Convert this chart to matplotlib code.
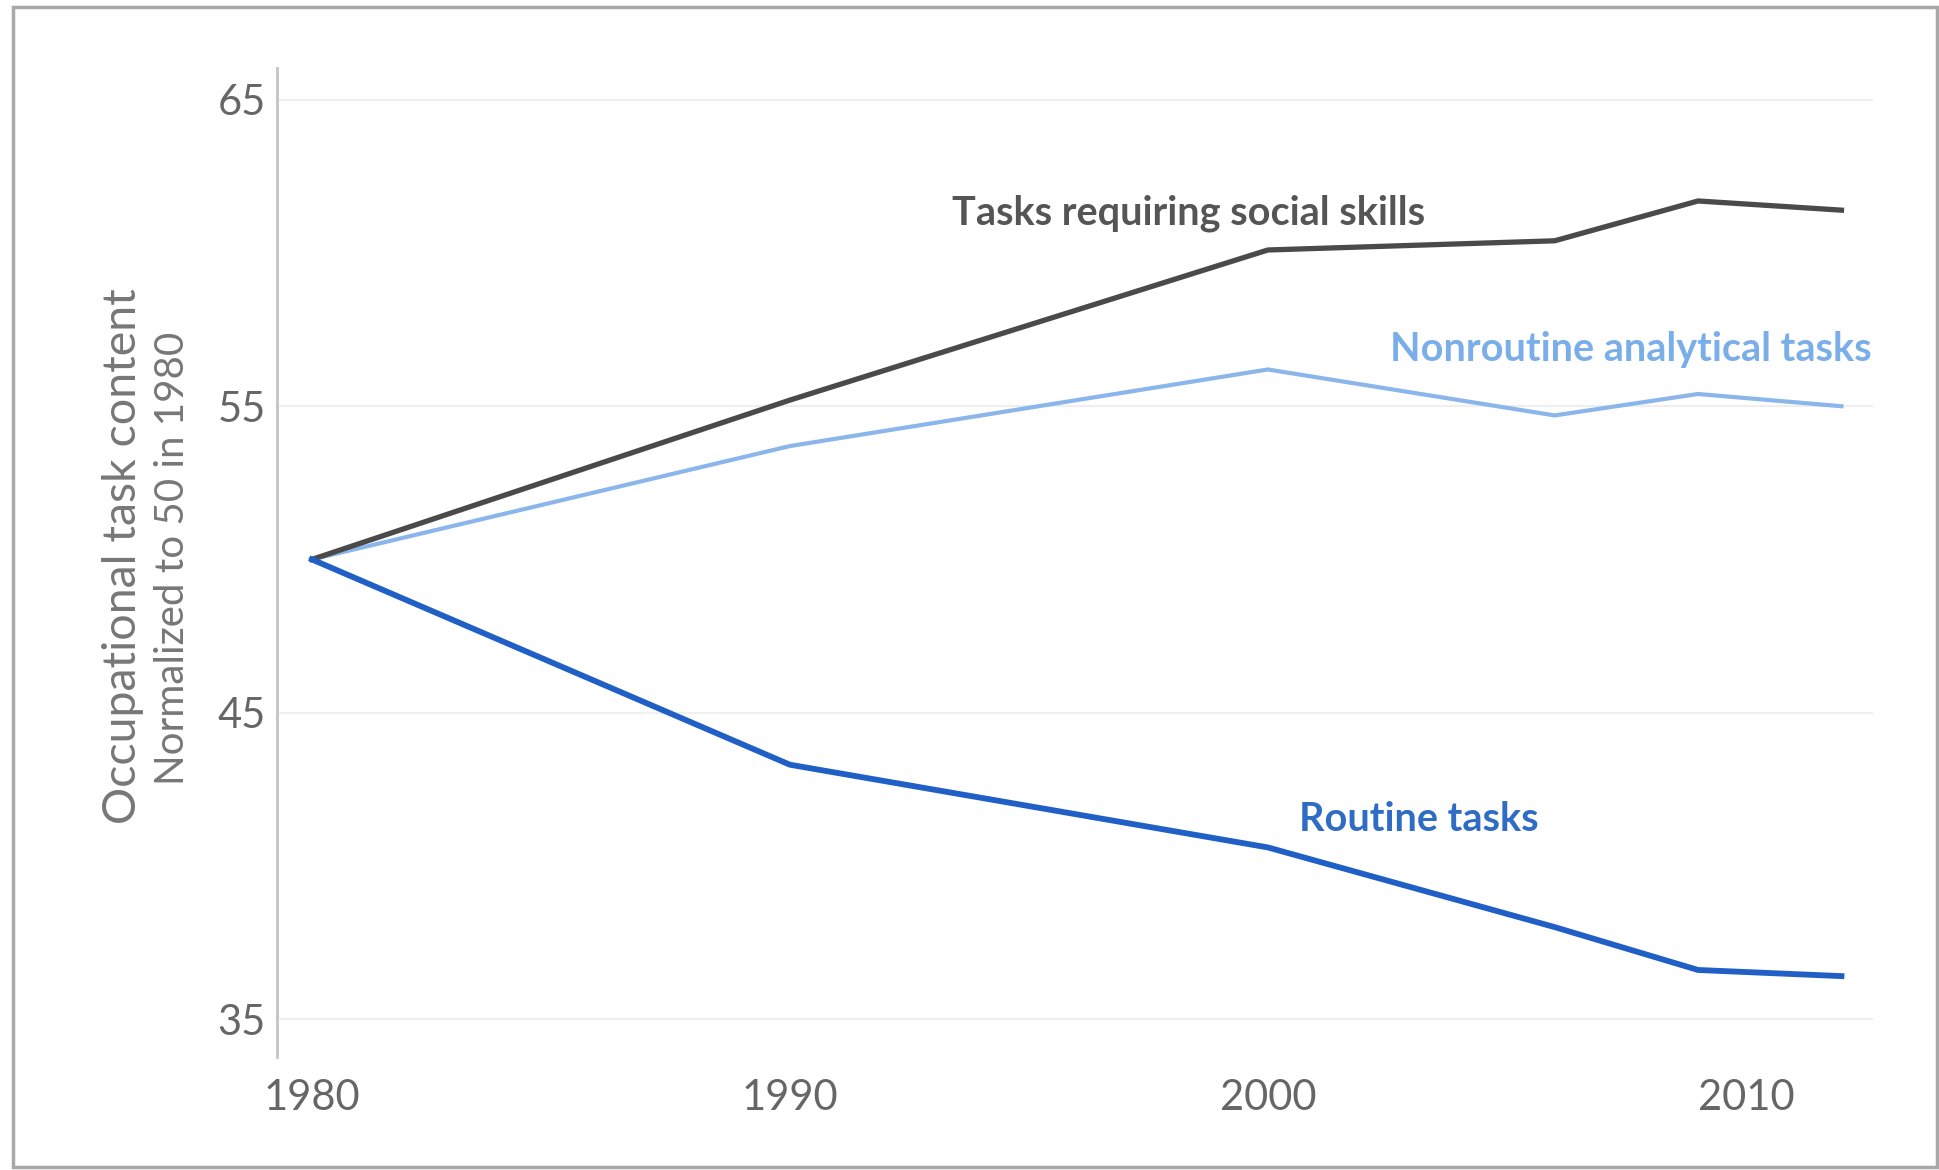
import matplotlib.pyplot as plt
from matplotlib.patches import Rectangle

years = [1980, 1990, 2000, 2006, 2009, 2012]
social = [50.0, 55.2, 60.1, 60.4, 61.7, 61.4]
nonroutine = [50.0, 53.7, 56.2, 54.7, 55.4, 55.0]
routine = [50.0, 43.3, 40.6, 38.0, 36.6, 36.4]

y_ticks = [35, 45, 55, 65]
x_ticks = [1980, 1990, 2000, 2010]

plt.rcParams["font.family"] = ["Lato", "DejaVu Sans"]

fig = plt.figure(figsize=(19.39, 11.70), dpi=100)
ax = fig.add_axes([277 / 1939, 113 / 1170, 1596 / 1939, 989 / 1170])

ax.plot(years, social, color="#4a4a4a", linewidth=3.8, zorder=3)
ax.plot(years, nonroutine, color="#8ab6ec", linewidth=3.0, zorder=2)
ax.plot(years, routine, color="#1f5fc6", linewidth=4.2, zorder=3)

ax.text(1998.35, 61.3, "Tasks requiring social skills", color="#555555",
        fontsize=28.5, fontweight="bold", ha="center", va="center")
ax.text(2007.6, 56.85, "Nonroutine analytical tasks", color="#7aaee8",
        fontsize=28.5, fontweight="bold", ha="center", va="center")
ax.text(2003.15, 41.5, "Routine tasks", color="#2f6cc4",
        fontsize=28.5, fontweight="bold", ha="center", va="center")

ax.set_xlim(1979.27, 2012.66)
ax.set_ylim(33.76, 66.04)
ax.set_yticks(y_ticks)
ax.set_xticks(x_ticks)
ax.tick_params(length=0, labelsize=30, labelcolor="#666666")
ax.tick_params(axis="y", pad=8)
ax.tick_params(axis="x", pad=16)
ax.grid(axis="y", color="#efefef", linewidth=1.5)
ax.set_axisbelow(True)
for side in ["top", "right", "bottom"]:
    ax.spines[side].set_visible(False)
ax.spines["left"].set_color("#c4c4c4")
ax.spines["left"].set_linewidth(2)

fig.text(123 / 1939, 1 - 556 / 1170, "Occupational task content", rotation=90,
         fontsize=33.5, color="#777777", ha="center", va="center")
fig.text(172 / 1939, 1 - 558 / 1170, "Normalized to 50 in 1980", rotation=90,
         fontsize=29, color="#777777", ha="center", va="center")

# screenshot frame
fig.patches.append(Rectangle((13 / 1939, 3 / 1170), 1924 / 1939, 1160 / 1170,
                             transform=fig.transFigure, fill=False,
                             edgecolor="#a8a8a8", linewidth=2.5))

fig.savefig("out.png", dpi=100)
